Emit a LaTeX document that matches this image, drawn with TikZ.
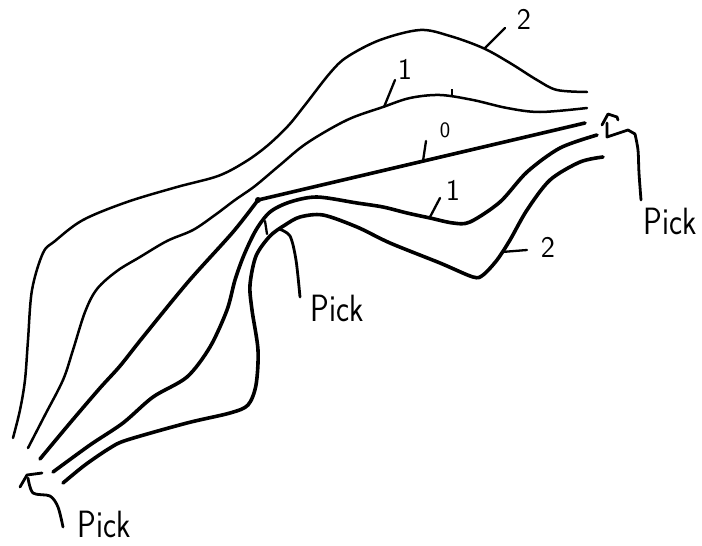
\documentclass[tikz,border=0pt]{standalone}
\usepackage{fontspec}
\begin{document}
\begin{tikzpicture}[x=1pt,y=-1pt,
  outerline/.style={line width=2.5pt, line cap=round, line join=round},
  boldline/.style={line width=3.6pt, line cap=round, line join=round},
  tickline/.style={line width=2.3pt, line cap=round},
  pointer/.style={line width=2.8pt, line cap=round, line join=round},
  picklbl/.style={font=\fontsize{38}{38}\sffamily, inner sep=0pt},
  numlbl/.style={font=\fontsize{30}{30}\sffamily, inner sep=0pt},
  smalllbl/.style={font=\fontsize{22}{22}\sffamily, inner sep=0pt}]
\useasboundingbox (0,0) rectangle (702,546);

% curve 2 (upper)
\draw[outerline] plot[smooth,tension=0.55] coordinates {(13,438) (20,410) (25,380) (28,340) (32,290) (43,253) (55,241) (83,220) (127,202) (177,187) (218,176) (245,162) (267,146) (288,126) (305,105) (330,73) (347,57) (380,40) (420,30) (450,36) (483,48) (510,63) (537,80) (557,90) (587,92)};
% curve 1 (upper)
\draw[outerline] plot[smooth,tension=0.55] coordinates {(28,448) (45,415) (63,380) (73,350) (85,312) (97,289) (117,271) (140,257) (167,241) (193,230) (215,215) (235,200) (255,186) (280,165) (307,143) (347,120) (383,107) (410,98) (440,95) (473,100) (507,108) (540,112) (587,108)};
% curve 0 (straight)
\coordinate (knot) at (258,200);
\draw[boldline] plot[smooth,tension=0.5] coordinates {(40,459) (70,423) (100,388) (120,366) (143,337) (188,282) (233,232) (258,200)} -- (585,123);
\fill (knot) circle (3);
% curve 1 (lower)
\draw[boldline] plot[smooth,tension=0.5] coordinates {(53,472) (90,445) (123,423) (153,397) (187,377) (210,347) (227,310) (235,280) (244,255) (256,230) (270,212) (290,202) (317,197) (357,203) (383,207) (407,213) (430,218) (453,223) (470,222) (500,202) (527,172) (560,148) (597,135)};
% curve 2 (lower)
\draw[boldline] plot[smooth,tension=0.5] coordinates {(63,483) (85,465) (110,448) (127,440) (187,423) (230,413) (248,405) (256,385) (258,350) (252,310) (250,285) (256,256) (270,236) (285,225) (300,217) (323,215) (357,227) (390,243) (440,263) (473,277) (483,275) (497,260) (510,240) (527,210) (550,180) (580,162) (603,157)};

% level labels
\draw[tickline] (485,48) -- (505,28);
\node[numlbl] (t2) at (524,19) {2};
\draw[tickline] (384,107) -- (395,80);
\node[numlbl] (t1) at (405,69) {1};
\draw[tickline] (423,161) -- (426,141);
\node[smalllbl] (t0) at (445,130) {0};
\draw[tickline] (430,217) -- (440,198);
\node[numlbl] (b1) at (453,190) {1};
\draw[tickline] (502,252) -- (527,250);
\node[numlbl] (b2) at (548,247) {2};
\draw[tickline] (265,221) -- (267,234);
\draw[line width=1.3pt] (452,89) -- (452,95);

% Pick labels and pointers
\node[picklbl] (pickL) at (104,524) {\scalebox{0.82}[1]{Pick}};
\node[picklbl] (pickM) at (337,308) {\scalebox{0.82}[1]{Pick}};
\node[picklbl] (pickR) at (670,221) {\scalebox{0.82}[1]{Pick}};

\draw[pointer] (20,487) -- (27,475) -- (42,473);
\draw[pointer] plot[smooth,tension=0.5] coordinates {(28,478) (33,493) (50,496) (58,507) (63,527)};

\draw[pointer] plot[smooth,tension=0.5] coordinates {(279,229) (290,236) (296,260) (300,297)};

\draw[pointer] (602,125) -- (608,114) -- (617,117) -- (618,120);
\draw[pointer] (607,123) -- (607,137) -- (628,130) -- (635,134);
\draw[pointer] plot[smooth,tension=0.5] coordinates {(635,134) (638,150) (639,173) (641,200)};
\end{tikzpicture}
\end{document}
